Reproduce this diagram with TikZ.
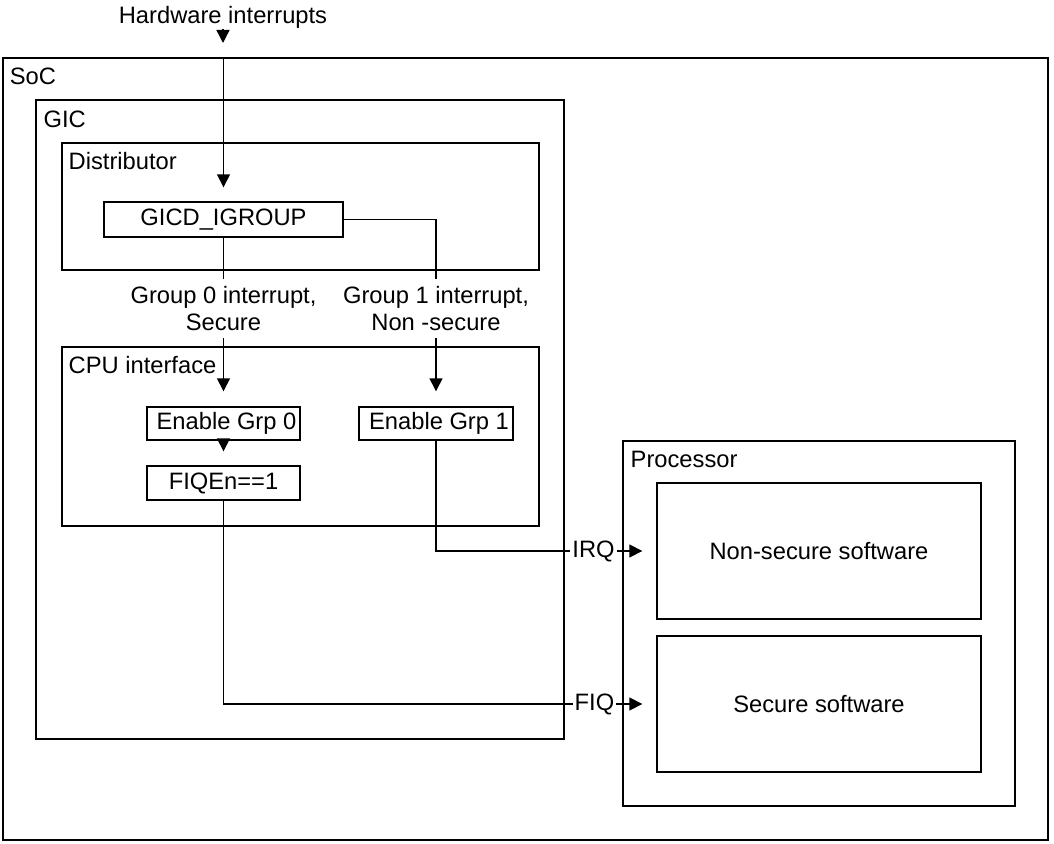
\documentclass[tikz,border=0pt]{standalone}
\usepackage{fontspec}
\setmainfont{Liberation Sans}
\usepackage{tikz}
\usetikzlibrary{positioning,calc,arrows.meta}

\tikzset{
  box/.style={draw, line width=0.8pt, inner sep=0pt},
  boxlbl/.style={anchor=west, inner sep=0pt},
  arr/.style={-{Triangle[length=0.26cm,width=0.26cm]}, line width=0.8pt},
  wire/.style={line width=0.8pt}
}

\begin{document}
\begin{tikzpicture}[x=0.02cm, y=-0.02cm, font=\fontsize{13.5}{15.3}\selectfont]
\useasboundingbox (0,0) rectangle (1054,844);

% Outer boxes
\node[box, minimum width=20.9cm, minimum height=15.64cm] (soc) at (525.5,449) {};
\node[box, minimum width=10.56cm, minimum height=12.78cm] (gic) at (300,419.5) {};
\node[box, minimum width=9.54cm, minimum height=2.54cm] (dist) at (300.5,206.5) {};
\node[box, minimum width=9.54cm, minimum height=3.58cm] (cpuif) at (300.5,436.5) {};
\node[box, minimum width=7.84cm, minimum height=7.3cm] (proc) at (819,623.5) {};

\node[boxlbl] at ($(soc.north west)+(7,19)$) {SoC};
\node[boxlbl] at ($(gic.north west)+(8,20)$) {GIC};
\node[boxlbl] at ($(dist.north west)+(7,19)$) {Distributor};
\node[boxlbl] at ($(cpuif.north west)+(7,19)$) {CPU interface};
\node[boxlbl] at ($(proc.north west)+(8,19)$) {Processor};

% Inner blocks
\node[box, minimum width=4.78cm, minimum height=0.7cm] (gicd) at (223.5,219.5) {GICD\_IGROUP};
\node[box, minimum width=3.06cm, minimum height=0.66cm] (engrp0) at (223.5,423.5) {\hspace{0.12cm}Enable Grp 0};
\node[box, minimum width=3.06cm, minimum height=0.68cm] (fiqen) at (223.5,483) {FIQEn==1};
\node[box, minimum width=3.08cm, minimum height=0.66cm] (engrp1) at (436,423.5) {\hspace{0.12cm}Enable Grp 1};
\node[box, minimum width=6.48cm, minimum height=2.72cm] (nssw) at (819,551) {Non-secure software};
\node[box, minimum width=6.48cm, minimum height=2.72cm] (ssw) at (819,704) {Secure software};

% Interrupt input
\node[anchor=base, inner sep=0pt] (hwint) at (223,23.5) {Hardware interrupts};
\coordinate (hwtip) at (223,43);
\draw[arr] (hwint.south) -- (hwtip);
\draw[arr, shorten >=0.28cm] (soc.north -| gicd.north) -- (gicd.north);

% Group labels
\node[anchor=north, inner xsep=0pt, inner ysep=0.14cm, align=center] (grp0) at (223.5,279) {Group 0 interrupt,\\Secure};
\node[anchor=north, inner xsep=0pt, inner ysep=0.14cm, align=center] (grp1) at (436,279) {Group 1 interrupt,\\Non -secure};

\draw[wire] (gicd.south) -- (grp0.north);
\draw[wire] (gicd.east) -| (grp1.north);
\draw[arr, shorten >=0.3cm] (grp0.south) -- (engrp0.north);
\draw[arr, shorten >=0.3cm] (grp1.south) -- (engrp1.north);
\draw[arr, shorten >=0.28cm] (engrp0.south) -- (fiqen.north);

% Outputs to processor
\node[inner sep=1pt] (irq) at (593.5,551) {IRQ};
\node[inner sep=1pt] (fiq) at (594.5,704) {FIQ};

\draw[wire] (engrp1.south) |- (irq.west);
\draw[arr, shorten >=0.28cm] (irq.east) -- (nssw.west);
\draw[wire] (fiqen.south) |- (fiq.west);
\draw[arr, shorten >=0.28cm] (fiq.east) -- (ssw.west);
\end{tikzpicture}
\end{document}
